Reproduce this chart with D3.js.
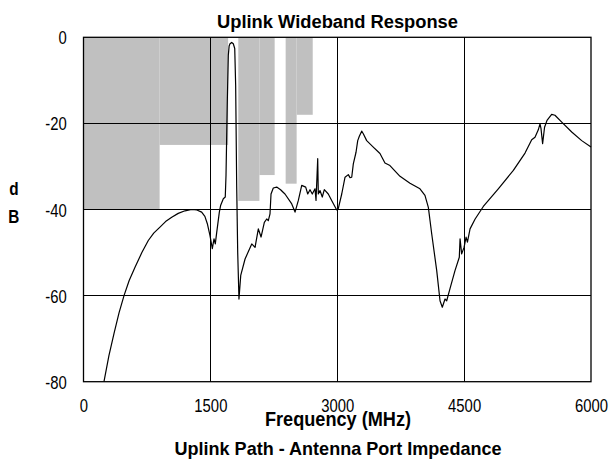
<!DOCTYPE html>
<html>
<head>
<meta charset="utf-8">
<script src="https://cdn.jsdelivr.net/npm/d3@7"></script>
<style>
  html, body { margin: 0; padding: 0; background: #fff; }
  svg { display: block; }
  text { font-family: "Liberation Sans", Arial, sans-serif; fill: #000; }
</style>
</head>
<body>
<svg id="chart" width="610" height="464"></svg>
<script>
// ---- data ----
const freqMHz = [242, 300, 361, 420, 479, 540, 609, 690, 766, 830, 904, 970, 1043, 1120, 1200, 1279, 1340, 1397, 1435,
  1464, 1495, 1523, 1543, 1558, 1575, 1606,
  1622, 1653, 1676, 1685, 1700, 1712, 1722, 1732, 1752, 1771, 1788, 1799, 1811, 1823, 1838, 1859, 1910, 1989,
  2028, 2067, 2099, 2138, 2166, 2185, 2205, 2217, 2244, 2284, 2330, 2382, 2462, 2501, 2540, 2580, 2627,
  2651, 2678, 2705, 2737, 2749, 2769, 2776, 2796, 2823, 2847, 2894, 2934, 2994, 3012, 3053, 3092,
  3131, 3151, 3171, 3190, 3222, 3242, 3261, 3289, 3308, 3348, 3426, 3505, 3564, 3623, 3742, 3860,
  3978, 4037, 4077, 4117, 4176, 4215, 4242, 4274, 4294, 4333, 4392, 4443, 4452, 4471, 4499, 4523,
  4539, 4570, 4630, 4727, 4904, 5082, 5220, 5299, 5338, 5377, 5397, 5409, 5428, 5451, 5480, 5535,
  5574, 5654, 5772, 5890, 6000];
const responseDb = [-80, -74, -68.8, -64, -60, -56.5, -53.4, -50, -47.2, -45.5, -44.1, -42.8, -41.8, -40.9, -40.3, -40, -40.1, -40.6, -41.6,
  -43.3, -46, -49.1, -46.8, -48, -45.3, -40.6,
  -39, -37.5, -37.1, -32, -15, -4.2, -2, -1.5, -1.2, -1.5, -2.6, -11.2, -34.4, -49.9, -60.8, -55.3, -51.5, -48,
  -48.8, -44.5, -46.4, -43, -42.2, -42.6, -41, -36.4, -35, -34.8, -35.4, -36.4, -38.7, -40.6, -37.9, -34.4, -34.8,
  -36.4, -35.4, -36.4, -35.2, -37.9, -28.2, -36.4, -35.6, -37.1, -35.4, -36.4, -37.9, -40.1, -39.8, -36.4, -32.5,
  -31.9, -32.6, -32.5, -29.4, -26.7, -24, -23, -21.8, -22.4, -24, -25.5, -27, -29.2, -29.8, -32.3, -33.9,
  -35.2, -36.7, -39.5, -45.7, -54.2, -61.2, -62.7, -60.8, -61.2, -58.4, -54.2, -51.1, -46.8, -50.3, -48.8, -46.4,
  -47.6, -44.5, -42.2, -39.3, -35.2, -30.9, -26.9, -23.8, -23.2, -21.5, -20.1, -21.2, -24.7, -20.9, -19.3, -17.9,
  -18.1, -19.7, -22, -24, -25.5];

// rejection mask blocks (each spans from 0 dB down to maskLowDb)
const maskStartMHz = [0, 900, 1830, 2080, 2390, 2520];
const maskEndMHz   = [900, 1710, 2080, 2260, 2520, 2710];
const maskLowDb    = [-40, -25, -38, -32, -34, -18];

const xTicks = [0, 1500, 3000, 4500, 6000];
const yTicks = [0, -20, -40, -60, -80];

const titleText = "Uplink Wideband Response";
const xTitleText = "Frequency (MHz)";
const yTitleChars = ["d", "B"];
const subtitleText = "Uplink Path - Antenna Port Impedance";

// ---- layout ----
const svg = d3.select("#chart");
const x = d3.scaleLinear().domain([0, 6000]).range([83.5, 591]);
const y = d3.scaleLinear().domain([-80, 0]).range([381.7, 37.3]);
const SX = 0.825;

// mask
svg.append("g").selectAll("rect")
  .data(maskStartMHz.map((s, i) => ({s, e: maskEndMHz[i], low: maskLowDb[i]})))
  .join("rect")
  .attr("x", d => x(d.s))
  .attr("width", d => x(d.e) - x(d.s))
  .attr("y", y(0))
  .attr("height", d => y(d.low) - y(0))
  .attr("fill", "#c0c0c0");

// grid
const grid = svg.append("g").attr("stroke", "#000").attr("stroke-width", 1).attr("shape-rendering", "crispEdges");
grid.selectAll("line.v").data(xTicks.slice(1, -1)).join("line")
  .attr("x1", d => x(d)).attr("x2", d => x(d)).attr("y1", y(0)).attr("y2", y(-80));
grid.selectAll("line.h").data(yTicks.slice(1, -1)).join("line")
  .attr("y1", d => y(d)).attr("y2", d => y(d)).attr("x1", x(0)).attr("x2", x(6000));

// frame
svg.append("rect")
  .attr("x", x(0)).attr("y", y(0))
  .attr("width", x(6000) - x(0)).attr("height", y(-80) - y(0))
  .attr("fill", "none").attr("stroke", "#000").attr("stroke-width", 1.3);

// curve
const line = d3.line().x((d, i) => x(freqMHz[i])).y(d => y(d));
svg.append("path")
  .datum(responseDb)
  .attr("d", line)
  .attr("fill", "none")
  .attr("stroke", "#000")
  .attr("stroke-width", 1.2)
  .attr("stroke-linejoin", "round");

// axes (labels only)
const fmt = d => String(d);
const xAxis = svg.append("g")
  .attr("transform", `translate(0,${y(-80)})`)
  .call(d3.axisBottom(x).tickValues(xTicks).tickSize(0).tickFormat(fmt));
xAxis.select(".domain").remove();
xAxis.selectAll("text")
  .attr("y", 0).attr("dy", null)
  .attr("transform", `translate(0,30.6) scale(${SX},1)`)
  .style("font-size", "18px").attr("font-family", null);

const yAxis = svg.append("g")
  .attr("transform", `translate(${x(0)},0)`)
  .call(d3.axisLeft(y).tickValues(yTicks).tickSize(0).tickFormat(fmt));
yAxis.select(".domain").remove();
yAxis.selectAll("text")
  .attr("x", 0).attr("dy", null).attr("y", 0)
  .attr("transform", `translate(-16.8,6.5) scale(${SX},1)`)
  .style("font-size", "18px").attr("font-family", null);

// titles
svg.append("text")
  .attr("x", 217).attr("y", 27.5)
  .attr("textLength", 241).attr("lengthAdjust", "spacingAndGlyphs")
  .style("font-size", "18px").style("font-weight", "bold")
  .text(titleText);

svg.append("text")
  .attr("x", 265).attr("y", 425.7)
  .attr("textLength", 146).attr("lengthAdjust", "spacingAndGlyphs")
  .style("font-size", "19.5px").style("font-weight", "bold")
  .text(xTitleText);

svg.append("text")
  .attr("x", 174.5).attr("y", 455)
  .attr("textLength", 327).attr("lengthAdjust", "spacingAndGlyphs")
  .style("font-size", "18.6px").style("font-weight", "bold")
  .text(subtitleText);

svg.append("g").selectAll("text").data(yTitleChars).join("text")
  .attr("transform", (d, i) => `translate(13.8,${[195, 222.7][i]}) scale(0.85,1)`)
  .attr("text-anchor", "middle")
  .style("font-size", "18px").style("font-weight", "bold")
  .text(d => d);
</script>
</body>
</html>
